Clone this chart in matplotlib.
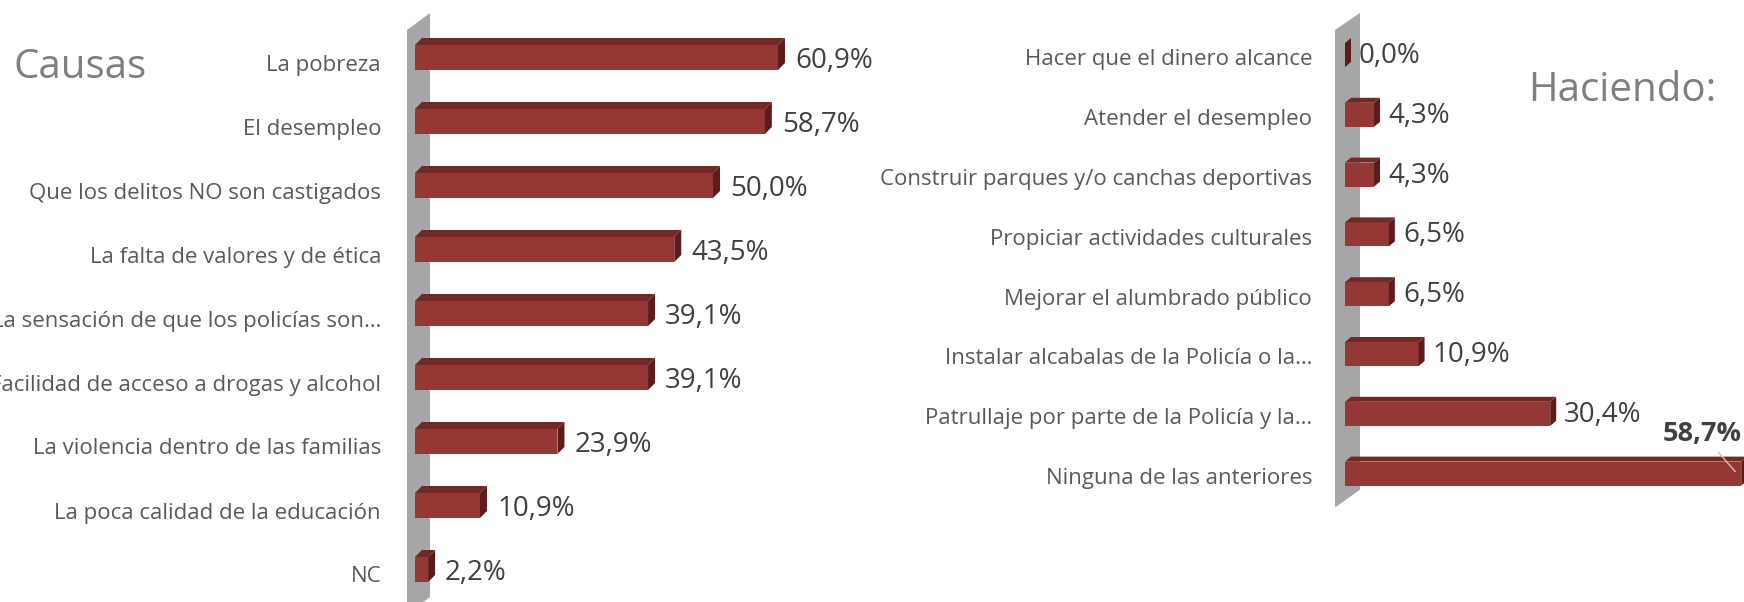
import matplotlib
matplotlib.use("Agg")
import matplotlib.pyplot as plt
from matplotlib.patches import Polygon

# data
causas = ["La pobreza", "El desempleo", "Que los delitos NO son castigados",
          "La falta de valores y de ética", "La sensación de que los policías son…",
          "Facilidad de acceso a drogas y alcohol", "La violencia dentro de las familias",
          "La poca calidad de la educación", "NC"]
causas_pct = [60.9, 58.7, 50.0, 43.5, 39.1, 39.1, 23.9, 10.9, 2.2]

acciones = ["Hacer que el dinero alcance", "Atender el desempleo",
            "Construir parques y/o canchas deportivas", "Propiciar actividades culturales",
            "Mejorar el alumbrado público", "Instalar alcabalas de la Policía o la…",
            "Patrullaje por parte de la Policía y la…", "Ninguna de las anteriores"]
acciones_pct = [0.0, 4.3, 4.3, 6.5, 6.5, 10.9, 30.4, 58.7]

FRONT = "#953735"
TOP = "#722827"
SIDE = "#5a1d1c"
WALL = "#a6a6a6"
LABEL = "#595959"
VALUE = "#404040"

W, H = 1744, 602
plt.rcParams['font.family'] = ['Open Sans', 'DejaVu Sans']
fig = plt.figure(figsize=(W / 100, H / 100), dpi=100)


def panel(x0, ppx, y0, row, xmax):
    """axes placed so value 0 sits at pixel x0 and row i is centred at y0 + i*row"""
    xmin = -3.0
    ax = fig.add_axes([(x0 + xmin * ppx) / W, 0, (xmax - xmin) * ppx / W, 1])
    ax.set_xlim(xmin, xmax)
    ax.set_ylim((H - y0) / row, -y0 / row)
    ax.axis('off')
    return ax


def draw_bars(ax, labels, values, ppx, row, front, depth, wall, lab_gap, val_gap, callout=None):
    n = len(values)
    ft, fb = front[0] / row, front[1] / row
    dx, dy = depth[0] / ppx, depth[1] / row

    # grey side wall (slanted top and bottom)
    wl, wr = wall[0] / ppx, wall[1] / ppx
    t_l, t_r, b_r, b_l = [p / row for p in wall[2:]]
    ax.add_patch(Polygon([(wl, t_l), (wr, t_r), (wr, n - 1 + b_r), (wl, n - 1 + b_l)],
                         closed=True, fc=WALL, ec='none', zorder=1))

    for i, (lab, v) in enumerate(zip(labels, values)):
        ax.barh(i + (ft + fb) / 2, v, height=fb - ft, left=0, color=FRONT,
                edgecolor='none', zorder=3)
        # top face and end face for the 3d look
        ax.add_patch(Polygon([(0, i + ft), (v, i + ft), (v + dx, i + ft - dy), (dx, i + ft - dy)],
                             closed=True, fc=TOP, ec='none', zorder=3))
        ax.add_patch(Polygon([(v, i + fb), (v, i + ft), (v + dx, i + ft - dy), (v + dx, i + fb - dy)],
                             closed=True, fc=SIDE, ec='none', zorder=3))
        ax.text(-lab_gap / ppx, i + 7 / row, lab, ha='right', va='center', fontsize=16, color=LABEL)
        txt = f"{v:.1f}%".replace('.', ',')
        if i == callout:
            ax.annotate(txt, xy=(v - dx, i), xytext=(-33, 38), textcoords='offset pixels',
                        ha='center', va='center', fontsize=19.5, fontweight='bold', color=VALUE,
                        arrowprops=dict(arrowstyle='-', color='#e6b9b8', lw=1, shrinkA=3, shrinkB=0),
                        annotation_clip=False)
        else:
            ax.annotate(txt, xy=(v, i), xytext=(val_gap, -3), textcoords='offset pixels',
                        ha='left', va='center', fontsize=20, color=VALUE)


ax1 = panel(415, 5.96, 58, 64, 70)
draw_bars(ax1, causas, causas_pct, 5.96, 64, front=(-13, 12), depth=(7, 7),
          wall=(-8, 15, -28, -45, 27, 44), lab_gap=34, val_gap=17)

ax2 = panel(1345, 6.75, 53, 59.8, 62)
draw_bars(ax2, acciones, acciones_pct, 6.75, 59.8, front=(-10, 14), depth=(6, 5),
          wall=(-10, 15, -23, -40, 18, 36), lab_gap=33, val_gap=14, callout=7)

fig.text(13 / W, 1 - 68 / H, "Causas", fontsize=29, color="#7f7f7f", ha='left', va='center')
fig.text(1528 / W, 1 - 91 / H, "Haciendo:", fontsize=29, color="#7f7f7f", ha='left', va='center')

fig.savefig("out.png", dpi=100, facecolor='white')
